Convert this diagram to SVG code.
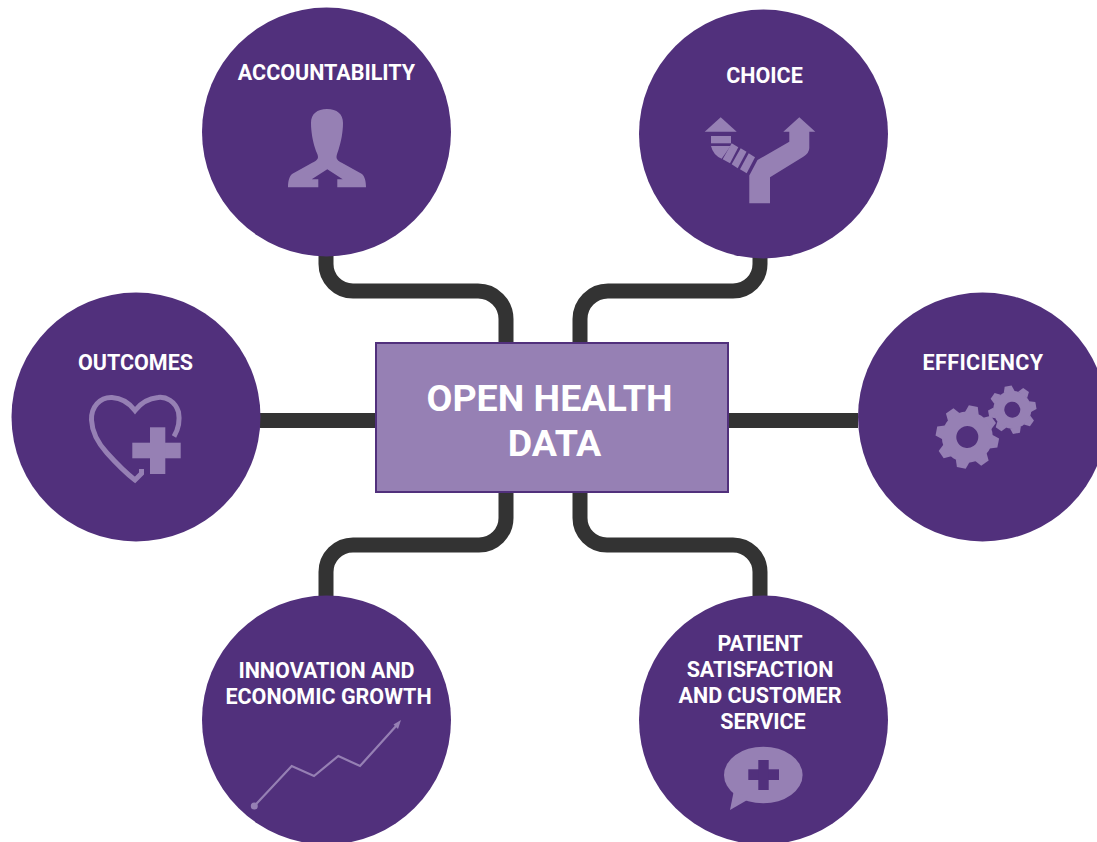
<svg xmlns="http://www.w3.org/2000/svg" xmlns:xlink="http://www.w3.org/1999/xlink" width="1097" height="842" viewBox="0 0 1097 842">
<style>
.c{fill:#51307c}
.i{fill:#9680b4}
.l{fill:none;stroke:#9680b4}
.t{font-family:Roboto,"Liberation Sans",sans-serif;font-weight:700;font-size:21.5px;fill:#fff;text-anchor:middle}
.h{font-size:37.6px}
.k{fill:none;stroke:#333;stroke-width:15}
</style>
<defs>
<polygon id="tb" points="-7,-24 -4.500,-31.500 4.500,-31.500 7,-24"/>
<polygon id="ts" points="-5.500,-18 -3.500,-24 3.500,-24 5.500,-18"/>
</defs>
<rect width="1097" height="842" fill="#fff"/>
<g id="connectors">
<path class="k" d="M326 250V264A27 27 0 0 0 353 291H478A28 28 0 0 1 506 319V343"/>
<path class="k" d="M760 250V264A27 27 0 0 1 733 291H608A28 28 0 0 0 580 319V343"/>
<path class="k" d="M506 492V518A27 27 0 0 1 479 545H353A27 27 0 0 0 326 572V600"/>
<path class="k" d="M580 492V518A27 27 0 0 0 607 545H733A27 27 0 0 1 760 572V600"/>
<path class="k" d="M260 420.500H376"/>
<path class="k" d="M728 420.500H858"/>
</g>
<g id="center">
<rect x="376" y="343" width="352" height="149" fill="#9680b4" stroke="#51307c" stroke-width="2"/>
<text class="t h" x="549.500" y="411">OPEN HEALTH</text>
<text class="t h" x="554.500" y="456">DATA</text>
</g>
<g id="accountability">
<circle class="c" cx="326.500" cy="132" r="124.500"/>
<text class="t" x="326.500" y="80">ACCOUNTABILITY</text>
<path class="i" d="M327 109C317 109 311 114 311 123C311 132 313 142 315 148C316 152 318 154 318 157C318 160 315 161.500 310 164L292 174C289.500 176 288 181 288 187.300H318.300V179.300H311.700L327.300 169.300L342.700 179.300H337.300V187.300H366C366 181 364.500 176 362 174L344 164C339 161.500 336.500 160 336.500 157C336.500 154 338 152 339 148C341 142 343 132 343 123C343 114 337 109 327 109Z"/>
</g>
<g id="choice">
<circle class="c" cx="763.500" cy="134" r="124.500"/>
<text class="t" x="764.500" y="82.500">CHOICE</text>
<path class="i" d="M799.300 117.300L815.300 131.700H809.300V148Q809.300 153 803.300 156.700L770 177.300V203.300H749.300V175.500L757.500 160L789.300 141.700V131.700H783.300Z"/>
<path class="i" d="M720.700 117.300L736.700 131.700H704.700Z"/>
<rect class="i" x="711" y="136" width="20" height="7.300"/>
<path class="i" d="M711 146H730.500L721.700 158.800Q713 155 711 146Z"/>
<path class="i" d="M731.700 143.300L738.300 147.300L730 163.300L722.700 159.300Z"/>
<path class="i" d="M740.700 148.300L746.500 151.700L737.700 168.300L731.700 164.300Z"/>
<path class="i" d="M748.700 153.300L755 157.300L746.700 173.300L740 169.300Z"/>
</g>
<g id="outcomes">
<circle class="c" cx="136" cy="417" r="124.500"/>
<text class="t" x="135.500" y="370">OUTCOMES</text>
<path class="l" stroke-width="5" d="M174 436.500C179 428 180 420 178.500 412C175 401 166 396.500 158 397.500C148 398.500 140 404 135 410.500C130 404 122 398 112 397.500C100 397 91 407 91.500 420C92 431 97 442 107 453C116 463 126 473 135 480L141.500 473.500V469"/>
<rect class="i" x="132.300" y="442.700" width="48.400" height="15.600"/>
<rect class="i" x="150" y="427.300" width="15.300" height="46.700"/>
</g>
<g id="efficiency">
<circle class="c" cx="982.500" cy="417" r="124.500"/>
<text class="t" x="983" y="370" letter-spacing=".4">EFFICIENCY</text>
<g transform="translate(967.300 437) rotate(11)">
<path class="i" fill-rule="evenodd" d="M-25.500 0A25.500 25.500 0 1 0 25.500 0A25.500 25.500 0 1 0 -25.500 0ZM-11 0A11 11 0 1 1 11 0A11 11 0 1 1 -11 0Z"/>
<use class="i" xlink:href="#tb"/>
<use class="i" xlink:href="#tb" transform="rotate(45)"/>
<use class="i" xlink:href="#tb" transform="rotate(90)"/>
<use class="i" xlink:href="#tb" transform="rotate(135)"/>
<use class="i" xlink:href="#tb" transform="rotate(180)"/>
<use class="i" xlink:href="#tb" transform="rotate(225)"/>
<use class="i" xlink:href="#tb" transform="rotate(270)"/>
<use class="i" xlink:href="#tb" transform="rotate(315)"/>
</g>
<g transform="translate(1012.300 409.700) rotate(-10)">
<path class="i" fill-rule="evenodd" d="M-19 0A19 19 0 1 0 19 0A19 19 0 1 0 -19 0ZM-8 0A8 8 0 1 1 8 0A8 8 0 1 1 -8 0Z"/>
<use class="i" xlink:href="#ts"/>
<use class="i" xlink:href="#ts" transform="rotate(45)"/>
<use class="i" xlink:href="#ts" transform="rotate(90)"/>
<use class="i" xlink:href="#ts" transform="rotate(135)"/>
<use class="i" xlink:href="#ts" transform="rotate(180)"/>
<use class="i" xlink:href="#ts" transform="rotate(225)"/>
<use class="i" xlink:href="#ts" transform="rotate(270)"/>
<use class="i" xlink:href="#ts" transform="rotate(315)"/>
</g>
</g>
<g id="innovation">
<circle class="c" cx="326.500" cy="720" r="124.500"/>
<text class="t" x="326.500" y="678">INNOVATION AND</text>
<text class="t" x="328.500" y="704">ECONOMIC GROWTH</text>
<circle class="i" cx="254.300" cy="806" r="3.500"/>
<path class="l" stroke-width="2.200" d="M254.300 806L291.700 766L314 776L338.300 756L360 766L397 725"/>
<path class="i" d="M401 720L393.500 724.500L398 729Z"/>
</g>
<g id="patient">
<circle class="c" cx="763.500" cy="720" r="124.500"/>
<text class="t" x="760" y="650.500">PATIENT</text>
<text class="t" x="760" y="676.500">SATISFACTION</text>
<text class="t" x="760" y="702.500">AND CUSTOMER</text>
<text class="t" x="763" y="728.500">SERVICE</text>
<ellipse class="i" cx="763.300" cy="775" rx="39.300" ry="28.300"/>
<path class="i" d="M734 790L730 810L749 799Z"/>
<rect class="c" x="748.300" y="769.300" width="30.700" height="10.700"/>
<rect class="c" x="758.300" y="760" width="10.400" height="30"/>
</g>
</svg>
